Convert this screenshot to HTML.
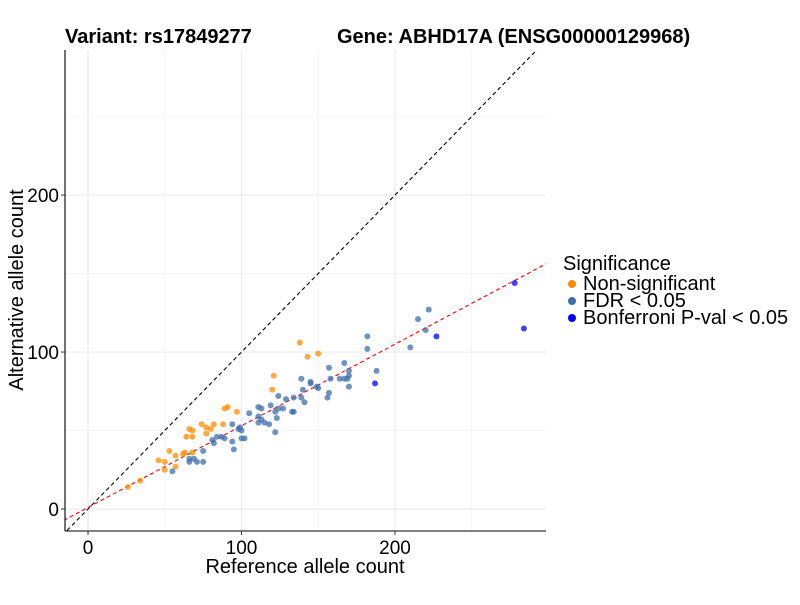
<!DOCTYPE html>
<html><head><meta charset="utf-8"><style>
body{margin:0;background:#fff;}
svg text{font-family:"Liberation Sans",Arial,sans-serif;}
</style></head><body>
<svg id="chart" width="800" height="600" viewBox="0 0 800 600"></svg>
<script>
const orangeX=[26,34,46,50,50,57,53,57,62,63,68,64,68,66,68,74,77,77,80,82,88,89,91,97,120,121,138,143,150];
const orangeY=[14,18,31,30,25,27,37,34,35,36,36,46,46,51,50,54,52,48,51,54,54,64,65,62,76,85,106,97,99];
const fdrX=[55,66,69,66,71,75,75,81,82,84,87,89,94,99,94,95,98,100,100,102,105,111,111,113,111,113,115,118,119,122,122,123,124,127,124,129,133,134,134,139,140,139,141,145,145,149,150,156,157,157,158,164,167,169,170,170,170,167,182,182,188,210,215,222,220];
const fdrY=[24,32,32,30,30,30,37,44,42,46,46,45,54,52,43,38,51,50,45,45,61,65,59,57,55,64,55,54,66,49,62,58,64,64,72,70,62,62,71,83,76,71,68,80,81,78,77,71,74,90,83,83,83,83,85,88,78,93,110,102,88,103,121,127,114];
const bonfX=[187,227,278,284];
const bonfY=[80,110,144,115];
const xTicks=[0,100,200];
const yTicks=[0,100,200];
const xMinor=[50,150,250];
const yMinor=[50,150,250];
const fitSlope=0.52, fitIntercept=1;
const xDomain=[-15,298.4], yDomain=[-14,292.4];

const L=65,R=546,T=50,B=531;
const sx=v=>L+(v-xDomain[0])/(xDomain[1]-xDomain[0])*(R-L);
const sy=v=>B-(v-yDomain[0])/(yDomain[1]-yDomain[0])*(B-T);
const svg=document.getElementById('chart');
const NS='http://www.w3.org/2000/svg';
function mk(tag,attrs,parent){const e=document.createElementNS(NS,tag);for(const k in attrs)e.setAttribute(k,attrs[k]);(parent||svg).appendChild(e);return e;}

const grid=mk('g',{});


xMinor.forEach(v=>mk('line',{x1:sx(v),x2:sx(v),y1:T,y2:B,stroke:'#f0f0f0','stroke-width':0.6},grid));
yMinor.forEach(v=>mk('line',{x1:L,x2:R,y1:sy(v),y2:sy(v),stroke:'#f0f0f0','stroke-width':0.6},grid));
xTicks.forEach(v=>mk('line',{x1:sx(v),x2:sx(v),y1:T,y2:B,stroke:'#ebebeb','stroke-width':1.1},grid));
yTicks.forEach(v=>mk('line',{x1:L,x2:R,y1:sy(v),y2:sy(v),stroke:'#ebebeb','stroke-width':1.1},grid));

const clip=mk('clipPath',{id:'pc'});mk('rect',{x:L,y:T,width:R-L,height:B-T},clip);
const lines=mk('g',{'clip-path':'url(#pc)'});
const idl=mk('line',{x1:sx(-20),y1:sy(-20),x2:sx(300),y2:sy(300),stroke:'#000','stroke-width':1.1,'stroke-dasharray':'4,3'},lines);


const fit=mk('line',{x1:sx(-20),y1:sy(fitIntercept+fitSlope*-20),x2:sx(300),y2:sy(fitIntercept+fitSlope*300),stroke:'#ff0000','stroke-width':1.1,'stroke-dasharray':'4,3'},lines);



function pts(xs,ys,col,name){const g=mk('g',{});


xs.forEach((x,i)=>{const c=mk('circle',{cx:sx(x),cy:sy(ys[i]),r:3,fill:col,'fill-opacity':0.75},g);

});}
pts(orangeX,orangeY,'#ff8c00','non-significant-points');
pts(fdrX,fdrY,'#3d6fa8','fdr-points');
pts(bonfX,bonfY,'#0000ff','bonferroni-points');

mk('line',{x1:L,x2:L,y1:T,y2:B,stroke:'#000','stroke-width':1.1});
mk('line',{x1:L,x2:R,y1:B,y2:B,stroke:'#000','stroke-width':1.1});
xTicks.forEach(v=>{mk('line',{x1:sx(v),x2:sx(v),y1:B,y2:B+4,stroke:'#333'});
const t=mk('text',{x:sx(v),y:B+23,'text-anchor':'middle','font-size':19,fill:'#000'});t.textContent=v;

});
yTicks.forEach(v=>{mk('line',{x1:L-4,x2:L,y1:sy(v),y2:sy(v),stroke:'#333'});
const t=mk('text',{x:L-6,y:sy(v)+7,'text-anchor':'end','font-size':19,fill:'#000'});t.textContent=v;

});
</script>
<svg width="800" height="600" style="position:absolute;left:0;top:0;pointer-events:none">
<text x="65" y="43" font-size="20" font-weight="bold">Variant: rs17849277</text>
<text x="337" y="43" font-size="20" font-weight="bold">Gene: ABHD17A (ENSG00000129968)</text>
<text x="305" y="573" font-size="20" text-anchor="middle">Reference allele count</text>
<text transform="translate(23,290) rotate(-90)" font-size="20" text-anchor="middle">Alternative allele count</text>
<g>
<text x="563" y="270" font-size="20">Significance</text>
<circle cx="572" cy="284" r="4" fill="#ff8c00"/>
<text x="583" y="290" font-size="20">Non-significant</text>
<circle cx="572" cy="301" r="4" fill="#3d6fa8"/>
<text x="583" y="307" font-size="20">FDR &lt; 0.05</text>
<circle cx="572" cy="318" r="4" fill="#0000ff"/>
<text x="583" y="324" font-size="20">Bonferroni P-val &lt; 0.05</text>
</g>
</svg>
</body></html>
